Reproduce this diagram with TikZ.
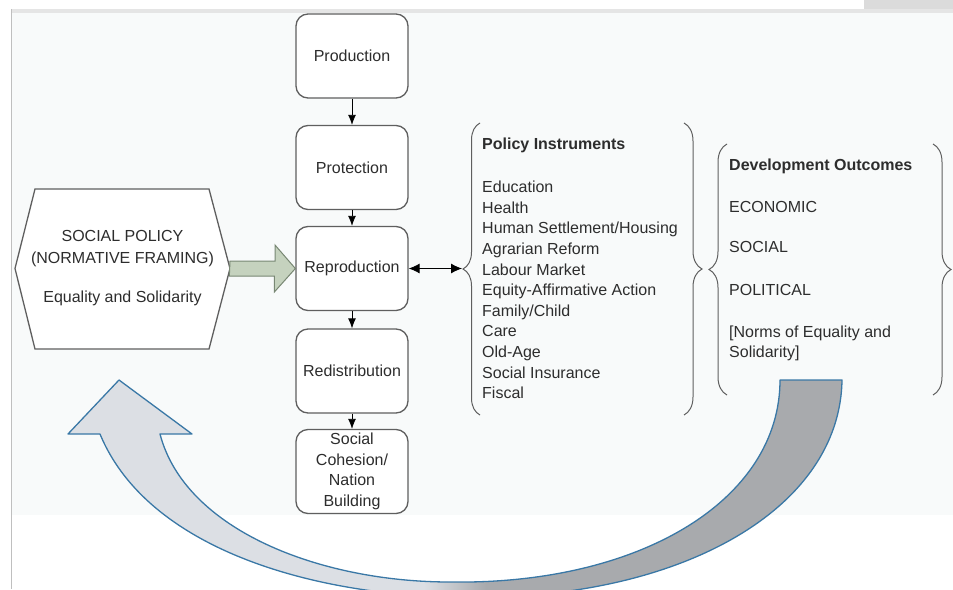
\documentclass[tikz,border=0pt]{standalone}
\usepackage{fontspec}
\setmainfont{Liberation Sans}
\usetikzlibrary{arrows.meta,decorations.pathreplacing}
\definecolor{myGray}{RGB}{95,95,95}
\definecolor{myText}{RGB}{45,45,45}
\definecolor{myGreen}{RGB}{197,210,190}
\definecolor{myGreenLine}{RGB}{120,135,115}
\definecolor{myBlue}{RGB}{58,120,166}
\definecolor{myLight}{RGB}{220,223,228}
\definecolor{myDark}{RGB}{168,170,173}
\definecolor{myPanel}{RGB}{248,250,250}

% light on the way back up, dark on the way down
\pgfdeclarehorizontalshading{bandshade}{100bp}{color(0bp)=(myLight); color(48bp)=(myLight); color(52bp)=(myDark); color(100bp)=(myDark)}

\tikzset{
	box/.style={draw=myGray, line width=1.3pt, rounded corners=12pt, fill=white, minimum width=112pt, minimum height=84pt, align=center, text=myText},
	down/.style={-{Latex[length=10pt,width=8pt]}, line width=0.8pt},
	curly/.style={draw=myGray, line width=1pt, decorate, decoration={brace, amplitude=17pt}},
}

\begin{document}
\begin{tikzpicture}[x=1pt, y=-1pt, font=\fontsize{16}{20.6}\selectfont]
	\useasboundingbox (0,0) rectangle (953,589);
	\fill[myPanel] (11,11) rectangle (953,515);
	\fill[black!14] (864,0) rectangle (953,9);
	\fill[black!10] (11,9) rectangle (953,13);
	\draw[black!25, line width=1pt] (11,9) -- (11,589);

	% the five stages
	\draw (352,56) node[box] (Prod) {Production};
	\draw (352,167.5) node[box] (Prot) {Protection};
	\draw (352,268.5) node[box] (Repr) {Reproduction};
	\draw (352,371) node[box] (Redis) {Redistribution};
	\draw (352,471.5) node[box, inner ysep=0pt] (Cohes) {Social\\Cohesion/\\Nation\\Building};

	\path[down]
	(Prod) edge (Prot)
	(Prot) edge (Repr)
	(Repr) edge (Redis)
	(Redis) edge (Cohes)
	;

	% normative framing
	\draw[myGray, line width=1.3pt, fill=white] (15,268.5) -- (35,189) -- (209,189) -- (230,268.5) -- (209,349) -- (35,349) -- cycle;
	\coordinate (H) at (230,268.5);
	\node[align=center, text=myText] (SP) at (122.5,249) {SOCIAL POLICY\\[1.4pt](NORMATIVE FRAMING)};
	\node[text=myText] (Eq) at (122.5,298) {Equality and Solidarity};

	\draw[fill=myGreen, draw=myGreenLine, line width=1pt] (H) ++(0,-7.5) -- ++(45,0) -- ++(0,-16) -- (Repr.west) -- ++(-21,23.5) -- ++(0,-16) -- ++(-45,0) -- cycle;

	\coordinate (PI) at (462,268.5);
	\path[{Latex[length=11pt,width=10pt]}-{Latex[length=11pt,width=10pt]}, line width=0.9pt]
	(Repr) edge (PI)
	;

	% instruments and outcomes
	\draw[curly] (480,415) -- (480,123);
	\draw[curly, decoration={amplitude=18pt}] (684,123) -- (684,415);
	\draw[curly, decoration={amplitude=18pt}] (727,395) -- (727,144);
	\draw[curly, decoration={amplitude=18pt}] (933,144) -- (933,395);

	\node[anchor=north west, align=left, inner sep=0pt, text=myText] (Inst) at (482,138) {\textbf{Policy Instruments}\\[22.4pt]Education\\Health\\Human Settlement/Housing\\Agrarian Reform\\Labour Market\\Equity-Affirmative Action\\Family/Child\\Care\\Old-Age\\Social Insurance\\Fiscal};
	\node[anchor=north west, align=left, inner sep=0pt, text=myText] (Outc) at (729,159) {\textbf{Development Outcomes}\\[21pt]ECONOMIC\\[20pt]SOCIAL\\[22pt]POLITICAL\\[21pt]{[}Norms of Equality and\\Solidarity{]}};

	% feedback loop
	\begin{scope}
		\clip (0,0) rectangle (953,589);
		\shadedraw[shading=bandshade, draw=myBlue, line width=1.3pt, line join=round]
		(842,380) .. controls (840,510) and (680,597) .. (480,597)
		.. controls (330,600) and (150,555) .. (100,434)
		-- (68,434) -- (119,380) -- (192,434) -- (160,434)
		.. controls (185,530) and (320,582) .. (450,582)
		.. controls (640,585) and (780,500) .. (780,380)
		-- cycle;
	\end{scope}
\end{tikzpicture}
\end{document}
